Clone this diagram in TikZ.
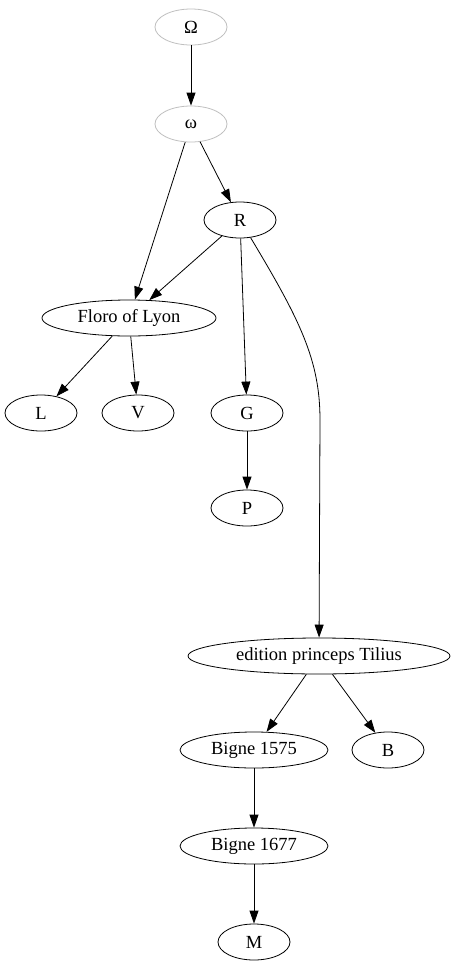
\documentclass[tikz,border=0pt]{standalone}
\usepackage{fontspec}
\setmainfont{Liberation Serif}
\usetikzlibrary{shapes.geometric,arrows.meta}

\begin{document}
\begin{tikzpicture}[x=1pt,y=-1pt,
    ms/.style={ellipse, draw, thick, minimum width=72pt, minimum height=36pt, inner sep=0pt, font=\fontsize{18.5pt}{21pt}\selectfont},
    lost/.style={ms, draw=black!25},
    edge/.style={-{Triangle[length=13pt,width=9pt]}, thick}]

    % fester Rahmen
    \useasboundingbox (0,0) rectangle (456,972);

    % verlorene Vorlagen
    \node[lost] (Omega) at (191,27) {Ω};
    \node[lost] (omega) at (191,124) {ω};

    % Handschriften
    \node[ms] (R) at (240,220) {R};
    \node[ms, minimum width=174pt] (floro) at (129,318) {Floro of Lyon};
    \node[ms] (L) at (41,413) {L};
    \node[ms] (V) at (138,413) {V};
    \node[ms] (G) at (247,413) {G};
    \node[ms] (P) at (247,508) {P};

    % Drucke
    \node[ms, minimum width=262pt] (tilius) at (319,656) {edition princeps Tilius};
    \node[ms, minimum width=148pt] (bigneA) at (254,750) {Bigne 1575};
    \node[ms] (B) at (388,750) {B};
    \node[ms, minimum width=148pt] (bigneB) at (254,846) {Bigne 1677};
    \node[ms] (M) at (254,942) {M};

    % Abhaengigkeiten
    \draw[edge] (Omega) -- (omega);
    \draw[edge] (omega) -- (floro);
    \draw[edge] (omega) -- (R);
    \draw[edge] (R) -- (floro);
    \draw[edge] (R) -- (G);
    \draw[edge] (R) .. controls (300,320) and (320,360) .. (320,420) -- (tilius);
    \draw[edge] (floro) -- (L);
    \draw[edge] (floro) -- (V);
    \draw[edge] (G) -- (P);
    \draw[edge] (tilius) -- (bigneA);
    \draw[edge] (tilius) -- (B);
    \draw[edge] (bigneA) -- (bigneB);
    \draw[edge] (bigneB) -- (M);

\end{tikzpicture}
\end{document}
